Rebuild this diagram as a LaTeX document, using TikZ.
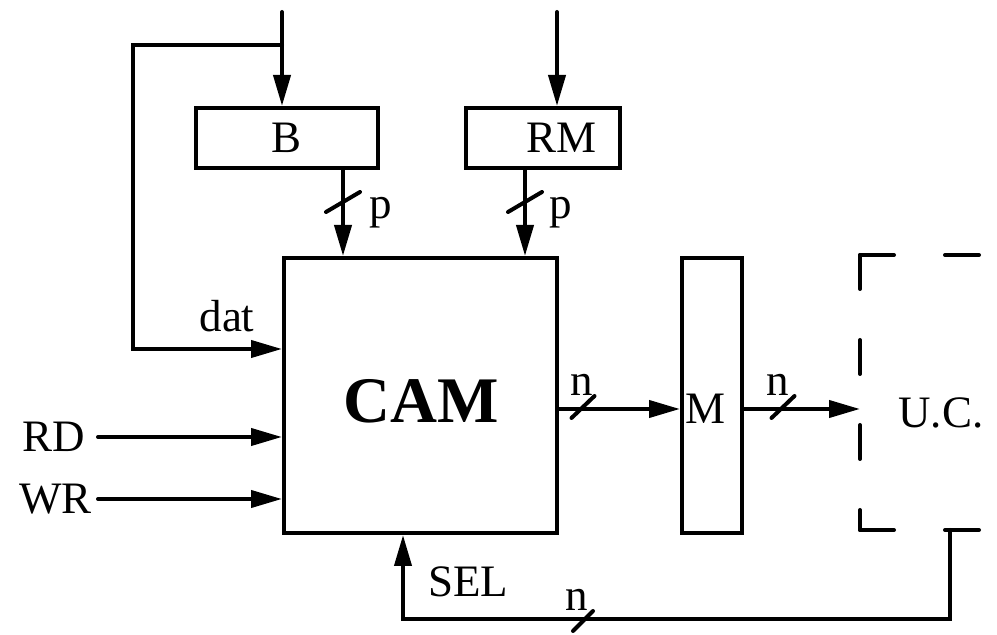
\documentclass[tikz,border=0pt]{standalone}
\usepackage{fontspec}
\setmainfont{Liberation Serif}
\usetikzlibrary{arrows.meta, positioning}

\tikzset{
  wire/.style={line width=0.08cm, line cap=round},
  sig/.style={wire, -{Triangle[length=0.62cm,width=0.34cm]}},
  reg/.style={draw, line width=0.08cm, inner sep=0pt, font=\fontsize{25.6}{30}\selectfont},
  lbl/.style={inner sep=0pt, font=\fontsize{25.6}{30}\selectfont},
  busmark/.style={line width=0.08cm, line cap=round},
  ucedge/.style={line width=0.08cm, line cap=round, dash pattern=on 0.68cm off 1.02cm},
}

\begin{document}
\begin{tikzpicture}
  \useasboundingbox (0,0) rectangle (19.94,12.7);
  % blocks
  \node[reg, minimum width=3.64cm, minimum height=1.2cm] (regb) at (5.74,9.94) {B};
  \node[reg, minimum width=3.08cm, minimum height=1.2cm] (regrm) at (10.86,9.94) {};
  \node[lbl] (rmtxt) at (11.22,9.94) {RM};
  \node[reg, minimum width=5.46cm, minimum height=5.5cm] (cam) at (8.41,4.79) {};
  \node[lbl, font=\fontsize{37}{44}\selectfont\bfseries] (camtxt) at (8.42,4.67) {CAM};
  \node[reg, minimum width=1.2cm, minimum height=5.5cm] (regm) at (14.24,4.79) {};
  \node[lbl, anchor=west] (mtxt) at (13.7,4.52) {M};

  % U.C. (dashed, open to the right)
  \coordinate (uctl) at (17.2,7.6);
  \coordinate (ucbl) at (17.2,2.1);
  \coordinate (uctr) at (19.94,7.6);
  \coordinate (ucbr) at (19.94,2.1);
  \draw[ucedge] (uctl) -- (uctr);
  \draw[ucedge] (uctl) -- (ucbl);
  \draw[ucedge] (ucbl) -- (ucbr);
  \node[lbl] (uc) at (18.82,4.44) {U.C.};

  % inputs from above
  \coordinate (topb) at (5.64,12.46);
  \coordinate (toprm) at (11.14,12.46);
  \coordinate (fork) at (5.64,11.8);
  \coordinate (loop) at (2.66,11.8);
  \coordinate (datin) at ([yshift=0.93cm]cam.west);
  \draw[sig] (topb) -- (topb |- regb.north);
  \draw[sig] (toprm) -- (toprm |- regrm.north);
  \draw[sig] (fork) -- (loop) |- (datin);
  \node[lbl] (dat) at (4.54,6.38) {dat};

  % RD / WR
  \coordinate (rdin) at (1.96,3.96);
  \coordinate (wrin) at (1.96,2.72);
  \node[lbl, left=0.26cm of rdin] (rd) {RD};
  \node[lbl, left=0.12cm of wrin] (wr) {WR};
  \draw[sig] (rdin) -- (rdin -| cam.west);
  \draw[sig] (wrin) -- (wrin -| cam.west);

  % p buses into CAM
  \coordinate (bout) at ([xshift=1.12cm]regb.south);
  \coordinate (rmout) at ([xshift=-0.36cm]regrm.south);
  \draw[sig] (bout) -- (bout |- cam.north);
  \draw[sig] (rmout) -- (rmout |- cam.north);
  \draw[busmark] (6.52,8.46) -- (7.2,8.86);
  \draw[busmark] (10.16,8.46) -- (10.84,8.86);
  \node[lbl] (pb) at (7.62,8.44) {p};
  \node[lbl] (prm) at (11.22,8.44) {p};

  % n buses
  \coordinate (camout) at ([yshift=-0.27cm]cam.east);
  \draw[sig] (camout) -- (camout -| regm.west);
  \draw[sig] (camout -| regm.east) -- (camout -| uctl);
  \draw[busmark] (11.43,4.34) -- (11.89,4.78);
  \draw[busmark] (15.43,4.34) -- (15.89,4.78);
  \node[lbl] (n1) at (11.64,5.0) {n};
  \node[lbl] (n2) at (15.56,5.0) {n};

  % SEL feedback
  \coordinate (ucout) at (19.0,2.1);
  \coordinate (selin) at ([xshift=-0.35cm]cam.south);
  \draw[sig] (ucout) -- ++(0,-1.78) -| (selin);
  \draw[busmark] (11.46,0.08) -- (11.86,0.48);
  \node[lbl] (n3) at (11.54,0.7) {n};
  \node[lbl] (sel) at (9.36,1.06) {SEL};
\end{tikzpicture}
\end{document}
